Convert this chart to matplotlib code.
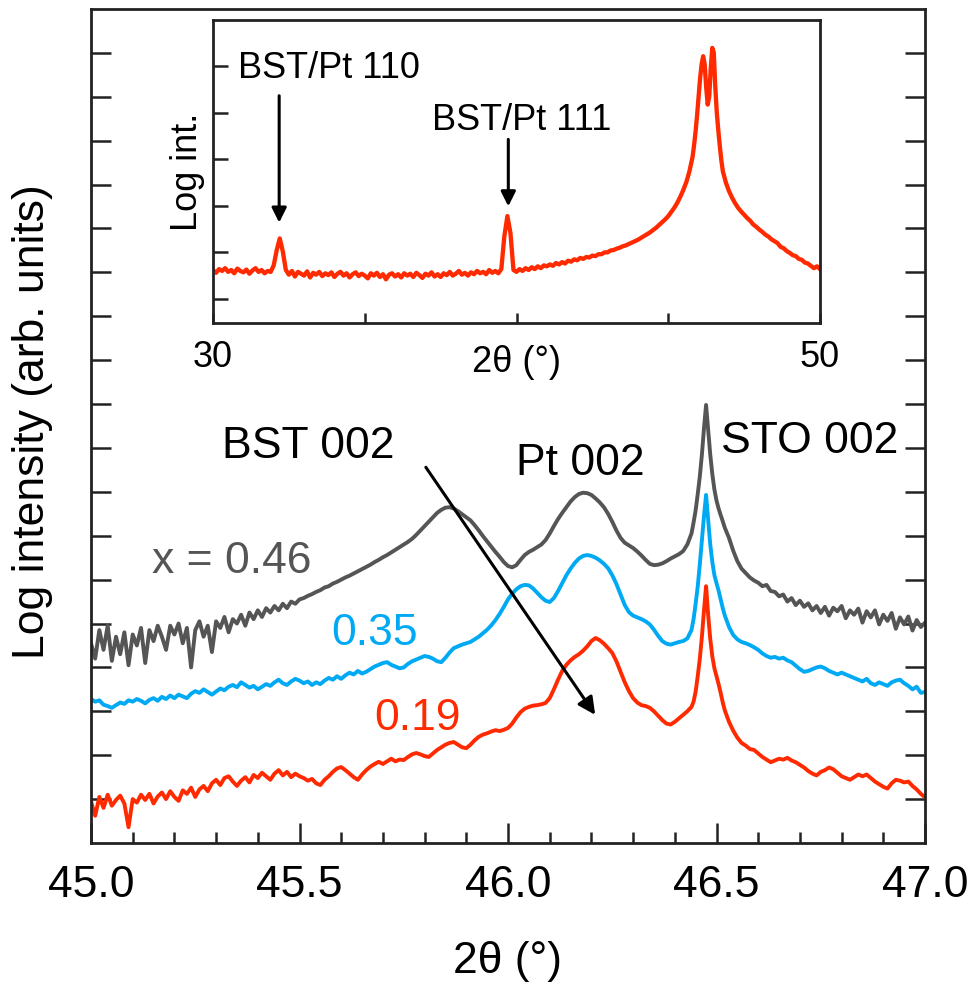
import numpy as np
import matplotlib
matplotlib.use("Agg")
import matplotlib.pyplot as plt
from matplotlib.ticker import FixedLocator, FixedFormatter, MultipleLocator

plt.rcParams['font.family'] = ['Liberation Sans', 'DejaVu Sans']

# ---------------- main scan: 2theta grid (finer steps across the STO 002 peak) ----------------
two_theta = np.round(np.r_[np.linspace(45.00, 46.43, 144),
                           np.linspace(46.44, 46.515, 16),
                           np.linspace(46.52, 47.00, 49)], 3)

# log intensity (offset for clarity), x = 0.46
log_i_046 = [
    4.55, 4.20, 4.85, 4.40, 4.95, 4.15, 4.70, 4.30, 4.80, 4.05,
    4.75, 4.50, 4.90, 4.10, 4.85, 4.60, 4.95, 4.70, 4.40, 4.95,
    4.75, 5.00, 4.55, 4.90, 4.00, 4.85, 5.05, 4.70, 4.95, 4.35,
    5.05, 4.90, 5.15, 4.80, 5.10, 5.00, 5.20, 4.95, 5.25, 5.10,
    5.30, 5.15, 5.35, 5.25, 5.40, 5.30, 5.45, 5.35, 5.50, 5.45,
    5.55, 5.58, 5.63, 5.67, 5.72, 5.76, 5.82, 5.85, 5.91, 5.95,
    6.00, 6.05, 6.09, 6.14, 6.19, 6.24, 6.29, 6.34, 6.40, 6.45,
    6.51, 6.56, 6.62, 6.68, 6.74, 6.80, 6.86, 6.93, 7.02, 7.12,
    7.22, 7.32, 7.42, 7.52, 7.59, 7.64, 7.65, 7.62, 7.56, 7.49,
    7.42, 7.35, 7.24, 7.12, 6.99, 6.87, 6.75, 6.63, 6.52, 6.40,
    6.31, 6.28, 6.33, 6.45, 6.56, 6.63, 6.68, 6.74, 6.80, 6.90,
    7.05, 7.22, 7.38, 7.52, 7.65, 7.78, 7.88, 7.95, 7.98, 7.97,
    7.93, 7.85, 7.76, 7.65, 7.50, 7.32, 7.12, 6.95, 6.84, 6.78,
    6.72, 6.64, 6.55, 6.45, 6.36, 6.33, 6.34, 6.37, 6.42, 6.48,
    6.53, 6.58, 6.65, 6.80,
    7.05, 7.30, 7.58, 7.95, 8.35, 8.85, 9.45, 9.98,
    9.40, 8.85, 8.40, 8.05, 7.80, 7.62, 7.47, 7.33,
    7.18, 6.95, 6.66, 6.42, 6.25, 6.15, 6.05, 5.98, 5.93, 5.85,
    5.88, 5.74, 5.72, 5.62, 5.66, 5.50, 5.58, 5.42, 5.52, 5.38,
    5.46, 5.30, 5.40, 5.24, 5.38, 5.18, 5.36, 5.28, 5.40, 5.12,
    5.30, 5.20, 5.34, 5.02, 5.28, 5.14, 5.30, 4.98, 5.20, 5.06,
    5.24, 4.88, 5.14, 4.98, 5.16, 4.84, 5.08, 4.92, 5.02,
]

# x = 0.35
log_i_035 = [
    3.28, 3.22, 3.25, 3.15, 3.12, 3.08, 3.14, 3.20, 3.17, 3.25,
    3.22, 3.28, 3.24, 3.18, 3.26, 3.30, 3.24, 3.33, 3.28, 3.36,
    3.30, 3.38, 3.34, 3.30, 3.40, 3.46, 3.42, 3.50, 3.44, 3.38,
    3.45, 3.52, 3.48, 3.56, 3.60, 3.55, 3.66, 3.60, 3.54, 3.58,
    3.50, 3.56, 3.62, 3.58, 3.66, 3.72, 3.64, 3.60, 3.68, 3.74,
    3.70, 3.64, 3.68, 3.60, 3.66, 3.62, 3.70, 3.76, 3.72, 3.80,
    3.74, 3.82, 3.88, 3.84, 3.92, 3.86, 3.90, 3.96, 4.02, 4.06,
    4.10, 4.12, 4.06, 4.02, 3.98, 4.00, 4.08, 4.14, 4.18, 4.22,
    4.26, 4.24, 4.20, 4.14, 4.12, 4.22, 4.34, 4.44, 4.48, 4.52,
    4.55, 4.58, 4.64, 4.70, 4.78, 4.86, 4.96, 5.08, 5.22, 5.38,
    5.55, 5.68, 5.78, 5.85, 5.88, 5.87, 5.80, 5.70, 5.60, 5.52,
    5.49, 5.58, 5.74, 5.92, 6.10, 6.25, 6.38, 6.48, 6.54, 6.56,
    6.54, 6.50, 6.44, 6.36, 6.26, 6.10, 5.90, 5.66, 5.42, 5.26,
    5.18, 5.14, 5.10, 5.05, 4.98, 4.86, 4.72, 4.60, 4.54, 4.52,
    4.55, 4.58, 4.60, 4.66,
    4.85, 5.10, 5.45, 5.85, 6.35, 6.90, 7.45, 7.93,
    7.35, 6.80, 6.40, 6.10, 5.92, 5.75, 5.55, 5.35,
    5.18, 4.92, 4.74, 4.64, 4.58, 4.55, 4.51, 4.46, 4.40, 4.32,
    4.26, 4.22, 4.24, 4.20, 4.22, 4.16, 4.12, 4.04, 3.96, 3.90,
    3.92, 3.96, 4.00, 4.02, 3.98, 3.92, 3.88, 3.84, 3.88, 3.84,
    3.80, 3.76, 3.72, 3.68, 3.74, 3.64, 3.60, 3.66, 3.62, 3.58,
    3.66, 3.70, 3.72, 3.64, 3.58, 3.50, 3.56, 3.42, 3.44,
]

# x = 0.19
log_i_019 = [
    0.95, 0.62, 1.05, 0.80, 1.10, 0.85, 0.98, 1.08, 0.90, 0.36,
    1.00, 0.92, 1.10, 0.98, 1.12, 0.90, 1.06, 1.15, 1.00, 1.18,
    1.05, 0.96, 1.20, 1.12, 1.26, 1.05, 1.22, 1.30, 1.18, 1.36,
    1.44, 1.32, 1.48, 1.52, 1.40, 1.30, 1.42, 1.50, 1.38, 1.55,
    1.48, 1.60, 1.52, 1.44, 1.58, 1.66, 1.54, 1.62, 1.50, 1.58,
    1.52, 1.48, 1.42, 1.46, 1.36, 1.32, 1.44, 1.52, 1.62, 1.70,
    1.73, 1.66, 1.58, 1.50, 1.44, 1.56, 1.66, 1.74, 1.80, 1.85,
    1.80, 1.86, 1.92, 1.86, 1.90, 1.89, 1.96, 2.02, 2.05, 2.02,
    1.98, 1.96, 2.04, 2.12, 2.18, 2.24, 2.28, 2.30, 2.24, 2.18,
    2.16, 2.24, 2.34, 2.42, 2.47, 2.50, 2.54, 2.57, 2.55, 2.58,
    2.62, 2.72, 2.86, 2.98, 3.06, 3.10, 3.13, 3.14, 3.16, 3.19,
    3.30, 3.50, 3.72, 3.92, 4.06, 4.16, 4.24, 4.30, 4.38, 4.48,
    4.60, 4.67, 4.62, 4.54, 4.44, 4.33, 4.14, 3.90, 3.66, 3.46,
    3.30, 3.20, 3.14, 3.12, 3.08, 3.00, 2.90, 2.80, 2.72, 2.70,
    2.76, 2.84, 2.92, 3.00,
    3.10, 3.22, 3.45, 3.80, 4.20, 4.70, 5.30, 5.85,
    5.20, 4.65, 4.25, 3.98, 3.80, 3.62, 3.42, 3.20,
    3.02, 2.76, 2.56, 2.40, 2.28, 2.22, 2.14, 2.12, 2.04, 1.96,
    1.90, 1.84, 1.88, 1.92, 1.90, 1.94, 1.88, 1.84, 1.78, 1.72,
    1.64, 1.58, 1.54, 1.62, 1.66, 1.72, 1.68, 1.60, 1.52, 1.48,
    1.44, 1.50, 1.56, 1.52, 1.56, 1.48, 1.40, 1.34, 1.28, 1.24,
    1.36, 1.44, 1.42, 1.38, 1.40, 1.30, 1.22, 1.12, 1.04,
]

# ---------------- wide scan shown in the inset ----------------
two_theta_wide = np.round(np.r_[np.linspace(30.0, 45.8, 159),
                                np.linspace(45.85, 46.80, 20),
                                np.linspace(46.9, 50.0, 32)], 3)

log_i_wide = [
    0.62, 0.56, 0.64, 0.60, 0.66, 0.58, 0.62, 0.55, 0.65, 0.60,
    0.57, 0.63, 0.54, 0.61, 0.66, 0.58, 0.62, 0.55, 0.60, 0.58,
    0.72, 1.05, 1.30, 1.02, 0.62,
    0.52, 0.60, 0.48, 0.58, 0.54, 0.50, 0.59, 0.46, 0.56, 0.52,
    0.58, 0.49, 0.55, 0.51, 0.57, 0.47, 0.54, 0.58, 0.50, 0.55,
    0.46, 0.53, 0.57, 0.49, 0.54,
    0.50, 0.44, 0.55, 0.50, 0.56, 0.47, 0.53, 0.42, 0.52, 0.55,
    0.48, 0.53, 0.46, 0.55, 0.50, 0.54, 0.47, 0.56, 0.51, 0.45,
    0.54, 0.50, 0.57, 0.48, 0.53, 0.47, 0.55, 0.51, 0.58, 0.50,
    0.54, 0.60, 0.52, 0.56, 0.50, 0.57, 0.53, 0.60, 0.55, 0.58,
    0.53, 0.62, 0.56, 0.60, 0.55,
    0.64, 1.35, 1.78, 1.42, 0.62,
    0.58, 0.64, 0.60, 0.66, 0.62, 0.68, 0.64, 0.70, 0.66, 0.72,
    0.70, 0.74, 0.71, 0.77, 0.74, 0.79, 0.76, 0.82, 0.80, 0.85,
    0.83, 0.88, 0.86, 0.90, 0.89, 0.93, 0.92, 0.96, 0.96, 1.00,
    1.00, 1.04, 1.05, 1.08, 1.10, 1.13, 1.15, 1.18, 1.21, 1.24,
    1.27, 1.31, 1.35, 1.39, 1.43, 1.48, 1.53, 1.59, 1.65, 1.71,
    1.78, 1.87, 1.96, 2.07, 2.20, 2.35, 2.52, 2.75, 3.05,
    3.30, 3.60, 3.95, 4.35, 4.75, 5.05, 5.22, 5.05, 4.55, 4.18,
    4.35, 4.95, 5.40, 5.30, 4.55, 4.00, 3.62, 3.28, 2.98, 2.74,
    2.50, 2.32, 2.18, 2.06, 1.96, 1.88, 1.81, 1.74, 1.68, 1.60,
    1.55, 1.49, 1.44, 1.38, 1.34, 1.28, 1.24, 1.20, 1.12, 1.09,
    1.03, 0.99, 0.94, 0.92, 0.86, 0.84, 0.78, 0.76, 0.71, 0.66,
    0.70, 0.64,
]

main_xticks = [45.0, 45.5, 46.0, 46.5, 47.0]
main_xticklabels = ['45.0', '45.5', '46.0', '46.5', '47.0']
inset_xticks = [30, 35, 40, 45, 50]
inset_xticklabels = ['30', '', '', '', '50']

GRAY = '#555555'
BLUE = '#00A9F4'
RED = '#FF2A00'
SPINE = '#222222'

W, H = 974, 989
fig = plt.figure(figsize=(W / 100, H / 100), dpi=100)

# ---------------- main axes ----------------
L, R, T, B = 91, 925, 9, 843
ax = fig.add_axes([L / W, 1 - B / H, (R - L) / W, (B - T) / H])
ax.plot(two_theta, log_i_046, color=GRAY, lw=2.8)
ax.plot(two_theta, log_i_035, color=BLUE, lw=2.8)
ax.plot(two_theta, log_i_019, color=RED, lw=2.8)
ax.set_xlim(45.0, 47.0)
ax.set_ylim(0, 19)

ax.xaxis.set_major_locator(FixedLocator(main_xticks))
ax.xaxis.set_major_formatter(FixedFormatter(main_xticklabels))
ax.xaxis.set_minor_locator(MultipleLocator(0.1))
ax.yaxis.set_major_locator(FixedLocator(list(range(1, 19))))
ax.tick_params(axis='x', which='major', direction='in', length=14.5, width=1.8,
               color=SPINE, labelsize=32, pad=16, top=False)
ax.tick_params(axis='x', which='minor', direction='in', length=8, width=1.8,
               color=SPINE, top=False)
ax.tick_params(axis='y', which='major', direction='in', length=14.5, width=1.8,
               color=SPINE, left=True, right=True, labelleft=False)
for s in ax.spines.values():
    s.set_linewidth(2.0)
    s.set_color(SPINE)

fig.text(33 / W, 1 - 422 / H, 'Log intensity (arb. units)', rotation=90,
         ha='center', va='center', fontsize=32)
fig.text(508 / W, 1 - 962 / H, '2θ (°)', ha='center', va='center', fontsize=32)

ax.text(45.520, 8.77, 'BST 002', ha='center', va='baseline', fontsize=32)
ax.text(46.173, 8.38, 'Pt 002', ha='center', va='baseline', fontsize=32)
ax.text(46.724, 8.88, 'STO 002', ha='center', va='baseline', fontsize=32)
ax.text(45.338, 6.15, 'x = 0.46', ha='center', va='baseline', fontsize=32, color=GRAY)
ax.text(45.679, 4.51, '0.35', ha='center', va='baseline', fontsize=32, color=BLUE)
ax.text(45.784, 2.58, '0.19', ha='center', va='baseline', fontsize=32, color=RED)

ax.annotate('', xy=(46.209, 2.92), xytext=(45.803, 8.56),
            arrowprops=dict(arrowstyle='-|>', lw=2.2, color='black',
                            mutation_scale=26, shrinkA=0, shrinkB=0))

# ---------------- inset: wide-range scan ----------------
iL, iR, iT, iB = 213, 820, 20, 323
axi = fig.add_axes([iL / W, 1 - iB / H, (iR - iL) / W, (iB - iT) / H])
axi.plot(two_theta_wide, log_i_wide, color=RED, lw=3.1)
axi.set_xlim(30, 50)
axi.set_ylim(-0.52, 6.0)
axi.xaxis.set_major_locator(FixedLocator(inset_xticks))
axi.xaxis.set_major_formatter(FixedFormatter(inset_xticklabels))
axi.yaxis.set_major_locator(FixedLocator([0, 1, 2, 3, 4, 5]))
axi.tick_params(axis='x', direction='in', length=7, width=1.8, color=SPINE,
                labelsize=26, pad=12, top=False)
axi.tick_params(axis='y', direction='in', length=11, width=1.8, color=SPINE,
                left=True, right=False, labelleft=False)
for s in axi.spines.values():
    s.set_linewidth(2.0)
    s.set_color(SPINE)

fig.text(187.5 / W, 1 - 172 / H, 'Log int.', rotation=90, ha='center', va='center',
         fontsize=26)
fig.text(516 / W, 1 - 362 / H, '2θ (°)', ha='center', va='center', fontsize=26)

axi.text(33.82, 4.76, 'BST/Pt 110', ha='center', va='baseline', fontsize=26)
axi.text(40.16, 3.64, 'BST/Pt 111', ha='center', va='baseline', fontsize=26)
axi.annotate('', xy=(32.18, 1.64), xytext=(32.18, 4.37),
             arrowprops=dict(arrowstyle='-|>', lw=2.2, color='black',
                             mutation_scale=22, shrinkA=0, shrinkB=0))
axi.annotate('', xy=(39.73, 1.99), xytext=(39.73, 3.43),
             arrowprops=dict(arrowstyle='-|>', lw=2.2, color='black',
                             mutation_scale=22, shrinkA=0, shrinkB=0))

fig.savefig('out.png', dpi=100)
